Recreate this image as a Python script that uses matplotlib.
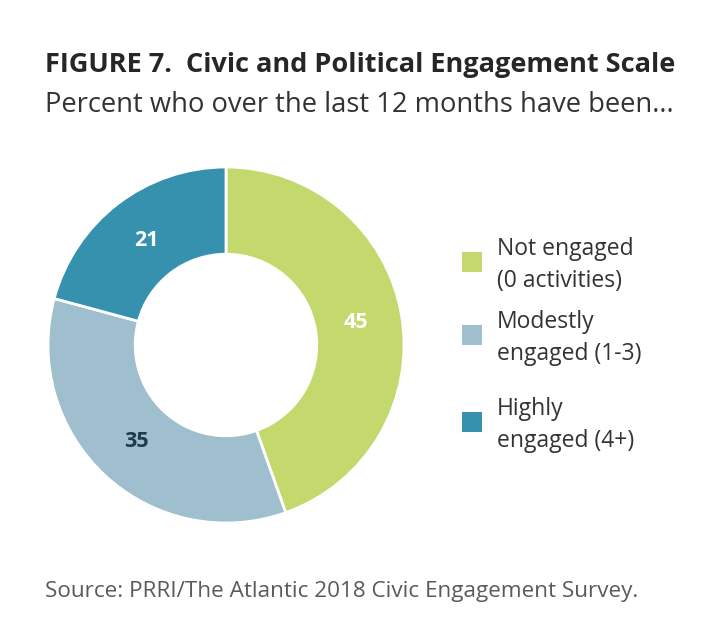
import matplotlib
matplotlib.use("Agg")
import matplotlib.pyplot as plt
import numpy as np

plt.rcParams['font.family'] = ['Open Sans', 'DejaVu Sans']

categories = ["Not engaged\n(0 activities)", "Modestly\nengaged (1-3)", "Highly\nengaged (4+)"]
values = [45, 35, 21]
colors = ["#c3d96d", "#9fbfcf", "#3591ae"]
label_colors = ["white", "#1f3a4d", "white"]

title = "FIGURE 7.  Civic and Political Engagement Scale"
subtitle = "Percent who over the last 12 months have been..."
source = "Source: PRRI/The Atlantic 2018 Civic Engagement Survey."

W, H = 720, 642
fig = plt.figure(figsize=(W / 100, H / 100), dpi=100)
fig.patch.set_facecolor("white")

# donut axes: centre (226, 345) px, box 360 px
cx, cy, box = 226, 345, 360
ax = fig.add_axes([(cx - box / 2) / W, (H - cy - box / 2) / H, box / W, box / H])
R = 178 / 180
wedges, _ = ax.pie(values, colors=colors, startangle=90, counterclock=False,
                   radius=R, wedgeprops=dict(width=R * 0.49, edgecolor="white", linewidth=2))
ax.set_xlim(-1, 1)
ax.set_ylim(-1, 1)
ax.set_aspect("equal")
ax.axis("off")

for w, v, lc in zip(wedges, values, label_colors):
    ang = np.deg2rad((w.theta1 + w.theta2) / 2)
    r = R * 0.74
    ax.text(r * np.cos(ang), r * np.sin(ang), str(v), ha="center", va="center",
            fontsize=15.5, fontweight="bold", color=lc)

# titles
fig.text(45 / W, 1 - 72 / H, title, fontsize=19.5, fontweight="bold", color="#262626",
         ha="left", va="baseline")
fig.text(45 / W, 1 - 112 / H, subtitle, fontsize=19.75, color="#333333",
         ha="left", va="baseline")
fig.text(45 / W, 1 - 597 / H, source, fontsize=16.2, color="#5a5a5a",
         ha="left", va="baseline")

# legend
sq = 20
ys = [262, 335, 422]
for c, lab, y in zip(colors, categories, ys):
    fig.patches.append(plt.Rectangle(((462) / W, (H - y - sq / 2) / H), sq / W, sq / H,
                                     transform=fig.transFigure, facecolor=c, edgecolor="none"))
    fig.text(497 / W, 1 - (y + 3) / H, lab, fontsize=16.5, color="#333333", ha="left",
             va="center", linespacing=1.42)

fig.savefig("out.png", dpi=100, facecolor="white")
